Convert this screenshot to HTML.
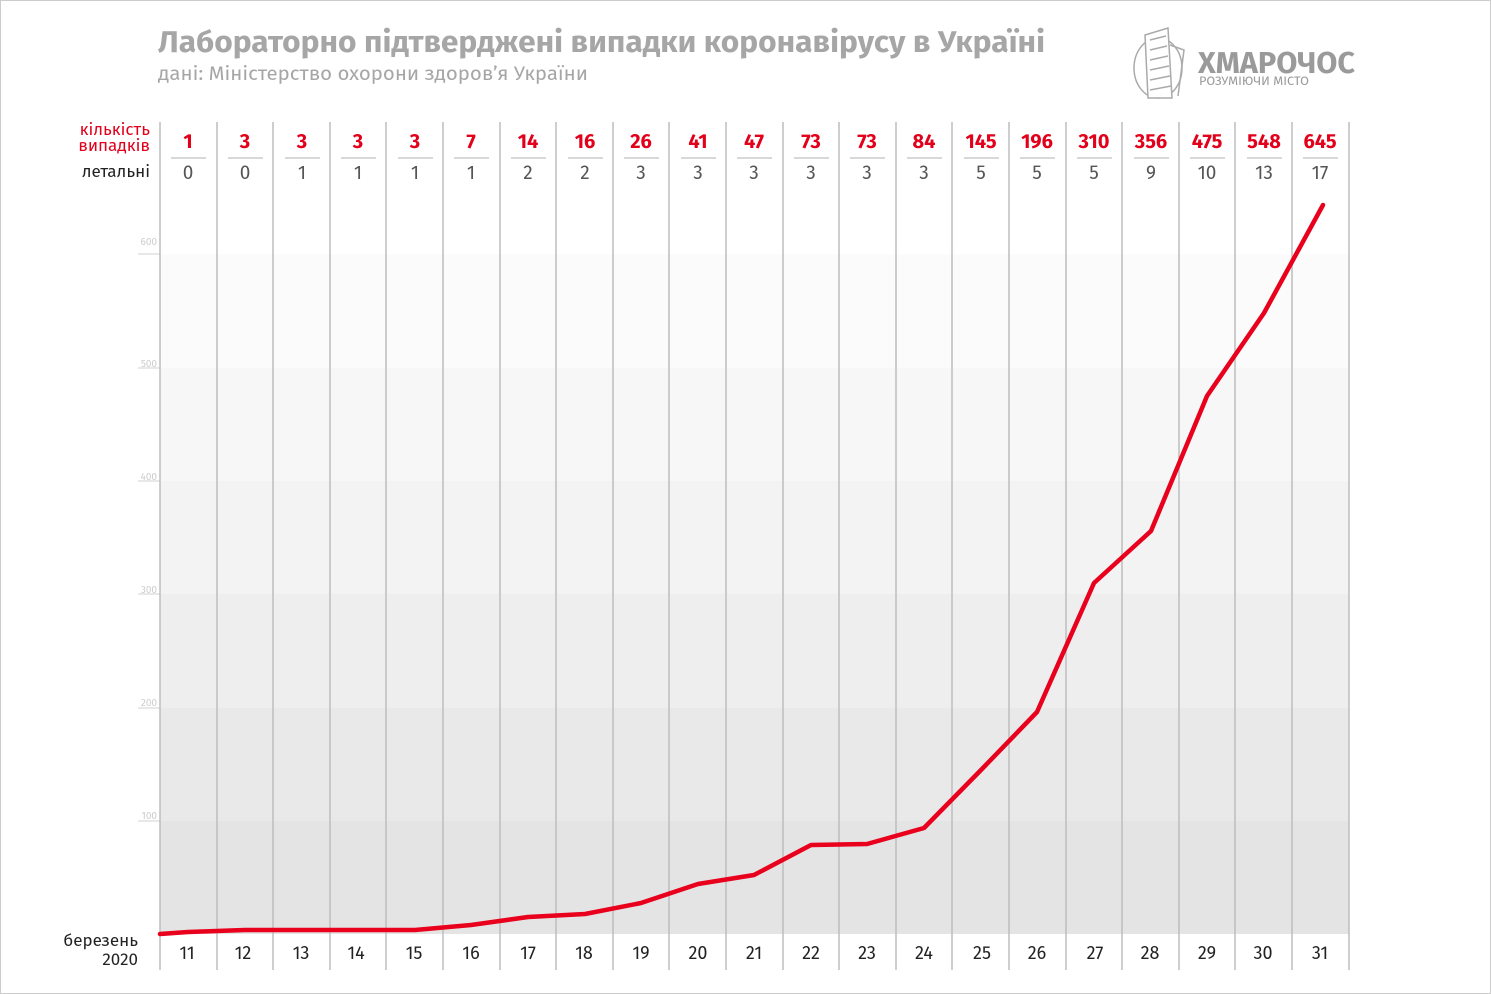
<!DOCTYPE html>
<html><head><meta charset="utf-8"><style>
body{margin:0;background:#fff;}
svg{display:block;font-family:"Fira Sans","Liberation Sans","DejaVu Sans",sans-serif;}
</style></head><body>
<svg width="1491" height="994" viewBox="0 0 1491 994">
<rect x="0.5" y="0.5" width="1490" height="993" fill="#fff" stroke="#ccc"/>
<text x="158" y="52" font-size="30" font-weight="bold" fill="#a6a6a6" textLength="887" lengthAdjust="spacingAndGlyphs">Лабораторно підтверджені випадки коронавірусу в Україні</text>
<text x="158" y="80" font-size="19" fill="#a6a6a6" textLength="430" lengthAdjust="spacingAndGlyphs">дані: Міністерство охорони здоров’я України</text>
<g stroke="#aaa" stroke-width="1.5" fill="none">
<ellipse cx="1158" cy="68" rx="24" ry="30"/>
<path d="M1145 35 L1168 28 L1172 98 L1148 98 Z" fill="#fff"/>
<path d="M1150 40 L1166 36 M1150 50 L1167 46 M1150 60 L1168 56 M1150 70 L1169 66 M1150 80 L1170 76 M1150 90 L1171 86"/>
<path d="M1170 45 L1184 50 L1178 96"/>
</g>
<text x="1198" y="73" font-size="30" font-weight="bold" fill="#9a9a9a" textLength="157" lengthAdjust="spacingAndGlyphs">ХМАРОЧОС</text>
<text x="1199" y="85" font-size="12" fill="#9a9a9a" textLength="110" lengthAdjust="spacingAndGlyphs">РОЗУМІЮЧИ МІСТО</text>
<g>
<rect x="160" y="821" width="1189" height="113" fill="#e4e4e4"/>
<rect x="160" y="708" width="1189" height="113" fill="#e9e9e9"/>
<rect x="160" y="594" width="1189" height="114" fill="#eeeeee"/>
<rect x="160" y="481" width="1189" height="113" fill="#f3f3f3"/>
<rect x="160" y="368" width="1189" height="113" fill="#f7f7f7"/>
<rect x="160" y="254" width="1189" height="114" fill="#fbfbfb"/>
</g>
<g stroke="#e0e0e0" stroke-width="1.5">
<line x1="138" y1="254" x2="160" y2="254"/><line x1="138" y1="368" x2="160" y2="368"/><line x1="138" y1="481" x2="160" y2="481"/><line x1="138" y1="594" x2="160" y2="594"/><line x1="138" y1="708" x2="160" y2="708"/><line x1="138" y1="821" x2="160" y2="821"/>
</g>
<g font-size="10" fill="#ccc" text-anchor="end">
<text x="157" y="245">600</text><text x="157" y="367">500</text><text x="157" y="480">400</text><text x="157" y="593">300</text><text x="157" y="706">200</text><text x="157" y="819">100</text>
</g>
<g stroke="#bdbdbd" stroke-width="1.5">
<line x1="160" y1="122" x2="160" y2="970"/><line x1="217" y1="122" x2="217" y2="970"/><line x1="273" y1="122" x2="273" y2="970"/><line x1="330" y1="122" x2="330" y2="970"/><line x1="386" y1="122" x2="386" y2="970"/><line x1="443" y1="122" x2="443" y2="970"/><line x1="500" y1="122" x2="500" y2="970"/><line x1="556" y1="122" x2="556" y2="970"/><line x1="613" y1="122" x2="613" y2="970"/><line x1="669" y1="122" x2="669" y2="970"/><line x1="726" y1="122" x2="726" y2="970"/><line x1="783" y1="122" x2="783" y2="970"/><line x1="839" y1="122" x2="839" y2="970"/><line x1="896" y1="122" x2="896" y2="970"/><line x1="952" y1="122" x2="952" y2="970"/><line x1="1009" y1="122" x2="1009" y2="970"/><line x1="1066" y1="122" x2="1066" y2="970"/><line x1="1122" y1="122" x2="1122" y2="970"/><line x1="1179" y1="122" x2="1179" y2="970"/><line x1="1235" y1="122" x2="1235" y2="970"/><line x1="1292" y1="122" x2="1292" y2="970"/><line x1="1349" y1="122" x2="1349" y2="970"/>
</g>
<g stroke="#ccc" stroke-width="1.5">
<line x1="171" y1="158" x2="206" y2="158"/><line x1="228" y1="158" x2="263" y2="158"/><line x1="285" y1="158" x2="320" y2="158"/><line x1="341" y1="158" x2="376" y2="158"/><line x1="398" y1="158" x2="433" y2="158"/><line x1="454" y1="158" x2="489" y2="158"/><line x1="511" y1="158" x2="546" y2="158"/><line x1="568" y1="158" x2="603" y2="158"/><line x1="624" y1="158" x2="659" y2="158"/><line x1="681" y1="158" x2="716" y2="158"/><line x1="737" y1="158" x2="772" y2="158"/><line x1="794" y1="158" x2="829" y2="158"/><line x1="850" y1="158" x2="885" y2="158"/><line x1="907" y1="158" x2="942" y2="158"/><line x1="964" y1="158" x2="999" y2="158"/><line x1="1020" y1="158" x2="1055" y2="158"/><line x1="1077" y1="158" x2="1112" y2="158"/><line x1="1134" y1="158" x2="1169" y2="158"/><line x1="1190" y1="158" x2="1225" y2="158"/><line x1="1247" y1="158" x2="1282" y2="158"/><line x1="1303" y1="158" x2="1338" y2="158"/>
</g>
<text x="150" y="135" font-size="17" fill="#e2001a" text-anchor="end">кількість</text>
<text x="150" y="151" font-size="17" fill="#e2001a" text-anchor="end">випадків</text>
<text x="150" y="177" font-size="17" fill="#222" text-anchor="end">летальні</text>
<g font-size="20" font-weight="bold" fill="#e2001a" text-anchor="middle">
<text x="188" y="148">1</text><text x="245" y="148">3</text><text x="302" y="148">3</text><text x="358" y="148">3</text><text x="415" y="148">3</text><text x="471" y="148">7</text><text x="528" y="148">14</text><text x="585" y="148">16</text><text x="641" y="148">26</text><text x="698" y="148">41</text><text x="754" y="148">47</text><text x="811" y="148">73</text><text x="867" y="148">73</text><text x="924" y="148">84</text><text x="981" y="148">145</text><text x="1037" y="148">196</text><text x="1094" y="148">310</text><text x="1151" y="148">356</text><text x="1207" y="148">475</text><text x="1264" y="148">548</text><text x="1320" y="148">645</text>
</g>
<g font-size="19" fill="#555" text-anchor="middle">
<text x="188" y="179">0</text><text x="245" y="179">0</text><text x="302" y="179">1</text><text x="358" y="179">1</text><text x="415" y="179">1</text><text x="471" y="179">1</text><text x="528" y="179">2</text><text x="585" y="179">2</text><text x="641" y="179">3</text><text x="698" y="179">3</text><text x="754" y="179">3</text><text x="811" y="179">3</text><text x="867" y="179">3</text><text x="924" y="179">3</text><text x="981" y="179">5</text><text x="1037" y="179">5</text><text x="1094" y="179">5</text><text x="1151" y="179">9</text><text x="1207" y="179">10</text><text x="1264" y="179">13</text><text x="1320" y="179">17</text>
</g>
<g font-size="18" fill="#222" text-anchor="middle">
<text x="187" y="959">11</text><text x="243" y="959">12</text><text x="301" y="959">13</text><text x="356" y="959">14</text><text x="414" y="959">15</text><text x="471" y="959">16</text><text x="528" y="959">17</text><text x="584" y="959">18</text><text x="641" y="959">19</text><text x="698" y="959">20</text><text x="754" y="959">21</text><text x="811" y="959">22</text><text x="867" y="959">23</text><text x="924" y="959">24</text><text x="982" y="959">25</text><text x="1037" y="959">26</text><text x="1095" y="959">27</text><text x="1150" y="959">28</text><text x="1207" y="959">29</text><text x="1263" y="959">30</text><text x="1320" y="959">31</text>
</g>
<text x="138" y="946" font-size="17" fill="#222" text-anchor="end">березень</text>
<text x="138" y="965" font-size="17" fill="#222" text-anchor="end">2020</text>
<polyline fill="none" stroke="#e8001c" stroke-width="4.5" stroke-linejoin="round" stroke-linecap="round"
points="160,934 188,932 245,930 302,930 358,930 415,930 471,925 528,917 585,914 641,903 698,884 754,875 811,845 867,844 924,828 981,770 1037,712 1094,583 1151,531 1207,396 1264,313 1323,205"/>
</svg>
</body></html>
